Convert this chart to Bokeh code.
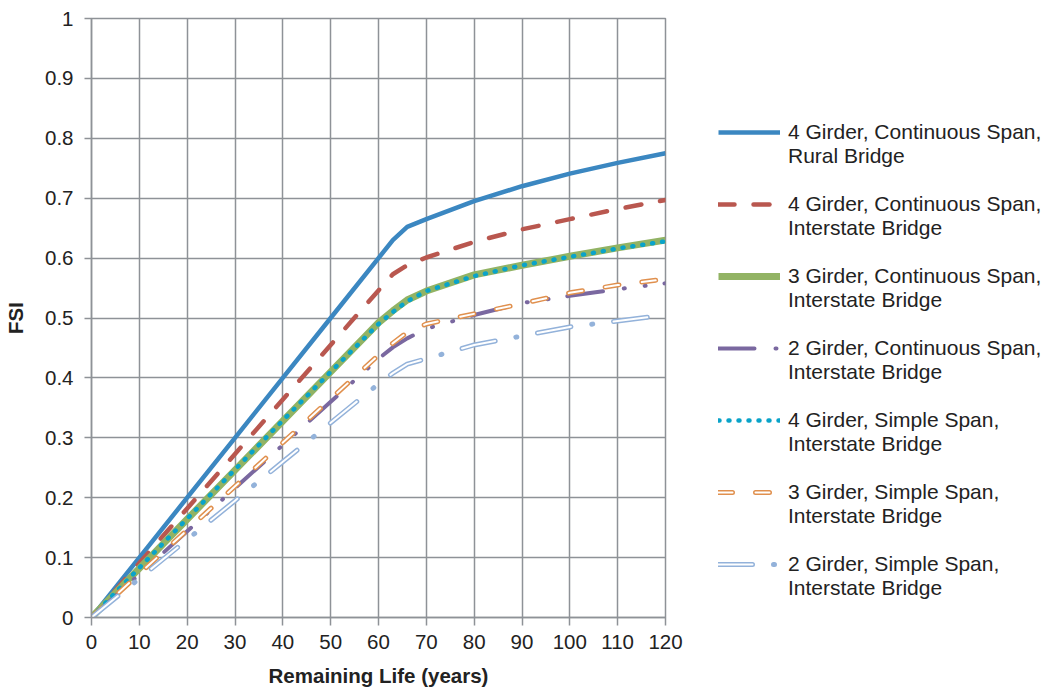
from bokeh.plotting import figure
from bokeh.models import Legend, LegendItem, NumeralTickFormatter, FixedTicker, ColumnDataSource
from bokeh.embed import file_html
from bokeh.resources import INLINE

life = [0, 10, 20, 30, 40, 50, 60, 63, 66, 70, 80, 90, 100, 110, 120]
g4_cont_rural = [0, .100, .200, .300, .400, .500, .600, .630, .652, .665, .695, .720, .741, .759, .775]
g4_cont_inter = [0, .091, .182, .273, .364, .455, .546, .573, .588, .601, .627, .648, .665, .682, .697]
g3_cont_inter = [0, .082, .164, .246, .328, .410, .492, .512, .530, .545, .572, .588, .603, .617, .630]
g2_cont_inter = [0, .072, .144, .216, .288, .360, .432, .451, .466, .482, .505, .525, .537, .548, .558]
g4_simp_inter = [0, .083, .165, .247, .329, .410, .490, .510, .528, .545, .570, .588, .602, .616, .628]
g3_simp_inter = [0, .073, .146, .219, .292, .365, .438, .458, .476, .490, .507, .524, .542, .555, .565]
g2_simp_inter = [0, .065, .130, .195, .260, .325, .390, .408, .423, .432, .455, .470, .485, .495, .505]

labels = [
    "4 Girder, Continuous Span,\nRural Bridge",
    "4 Girder, Continuous Span,\nInterstate Bridge",
    "3 Girder, Continuous Span,\nInterstate Bridge",
    "2 Girder, Continuous Span,\nInterstate Bridge",
    "4 Girder, Simple Span,\nInterstate Bridge",
    "3 Girder, Simple Span,\nInterstate Bridge",
    "2 Girder, Simple Span,\nInterstate Bridge",
]
x_ticks = list(range(0, 121, 10))
y_ticks = [round(i * 0.1, 1) for i in range(11)]

FONT = "Liberation Sans"
GRID = "#8e9297"
TXT = "#222222"

p = figure(frame_width=574, frame_height=599, x_range=(0, 120), y_range=(0, 1),
           output_backend="svg", toolbar_location=None,
           min_border_left=91, min_border_top=18, min_border_bottom=71, min_border_right=60)
p.background_fill_color = "white"
p.border_fill_color = "white"
p.outline_line_color = GRID
p.outline_line_width = 1.5

for ax, ticks in ((p.xaxis, x_ticks), (p.yaxis, y_ticks)):
    ax.ticker = FixedTicker(ticks=ticks)
    ax.axis_line_color = GRID
    ax.axis_line_width = 1.5
    ax.major_tick_line_color = GRID
    ax.major_tick_line_width = 1.5
    ax.major_tick_in = 0
    ax.minor_tick_line_color = None
    ax.major_label_text_font = FONT
    ax.major_label_text_font_size = "20.5px"
    ax.major_label_text_color = TXT
    ax.axis_label_text_font = FONT
    ax.axis_label_text_font_size = "20.5px"
    ax.axis_label_text_font_style = "bold"
    ax.axis_label_text_color = TXT

p.xaxis.major_tick_out = 8
p.yaxis.major_tick_out = 7
p.xaxis.axis_label = "Remaining Life (years)"
p.yaxis.axis_label = "FSI"
p.yaxis.formatter = NumeralTickFormatter(format="0.[0]")
p.xaxis.major_label_standoff = 9
p.yaxis.major_label_standoff = 11
p.xaxis.axis_label_standoff = 12
p.yaxis.axis_label_standoff = 15

p.xgrid.ticker = FixedTicker(ticks=x_ticks)
p.ygrid.ticker = FixedTicker(ticks=y_ticks)
for g in (p.xgrid, p.ygrid):
    g.grid_line_color = GRID
    g.grid_line_width = 1.5

src = ColumnDataSource(dict(x=life, a=g4_cont_rural, b=g4_cont_inter, c=g3_cont_inter,
                            d=g2_cont_inter, e=g4_simp_inter, f=g3_simp_inter, g=g2_simp_inter))

r1 = p.line("x", "a", source=src, line_color="#3b87c1", line_width=4.5, line_join="round")
r2 = p.line("x", "b", source=src, line_color="#b9574f", line_width=4.5, line_cap="round",
            line_dash="16 19")
r3 = p.line("x", "c", source=src, line_color="#92b364", line_width=7, line_join="round")
r4 = p.line("x", "d", source=src, line_color="#7a68a0", line_width=4, line_cap="round",
            line_dash="36 21 1 20 1 19")
r5 = p.line("x", "e", source=src, line_color="#0aa3c9", line_width=4.5, line_cap="round",
            line_dash="1 9")
r6o = p.line("x", "f", source=src, line_color="#e0904e", line_width=5, line_cap="round",
             line_dash="14 23")
r6i = p.line("x", "f", source=src, line_color="white", line_width=2, line_cap="round",
             line_dash="14 23")
r7o = p.line("x", "g", source=src, line_color="#93b2da", line_width=5, line_cap="round",
             line_dash="34 21 1 21")
r7i = p.line("x", "g", source=src, line_color="white", line_width=2, line_cap="round",
             line_dash="34 43")

rends = [[r1], [r2], [r3], [r4], [r5], [r6o, r6i], [r7o, r7i]]
items = [LegendItem(label=" \n" + lab, renderers=rr) for lab, rr in zip(labels, rends)]
legend = Legend(items=items, location=(53, 17))
legend.margin = 0
legend.padding = 0
legend.border_line_color = None
legend.background_fill_alpha = 0
legend.glyph_width = 62
legend.glyph_height = 20
legend.label_standoff = 8
legend.spacing = -9
legend.label_text_font = FONT
legend.label_text_font_size = "21px"
legend.label_text_line_height = 1.29
legend.label_text_color = TXT
p.add_layout(legend, "right")

open("out.html", "w").write(file_html(p, INLINE))
